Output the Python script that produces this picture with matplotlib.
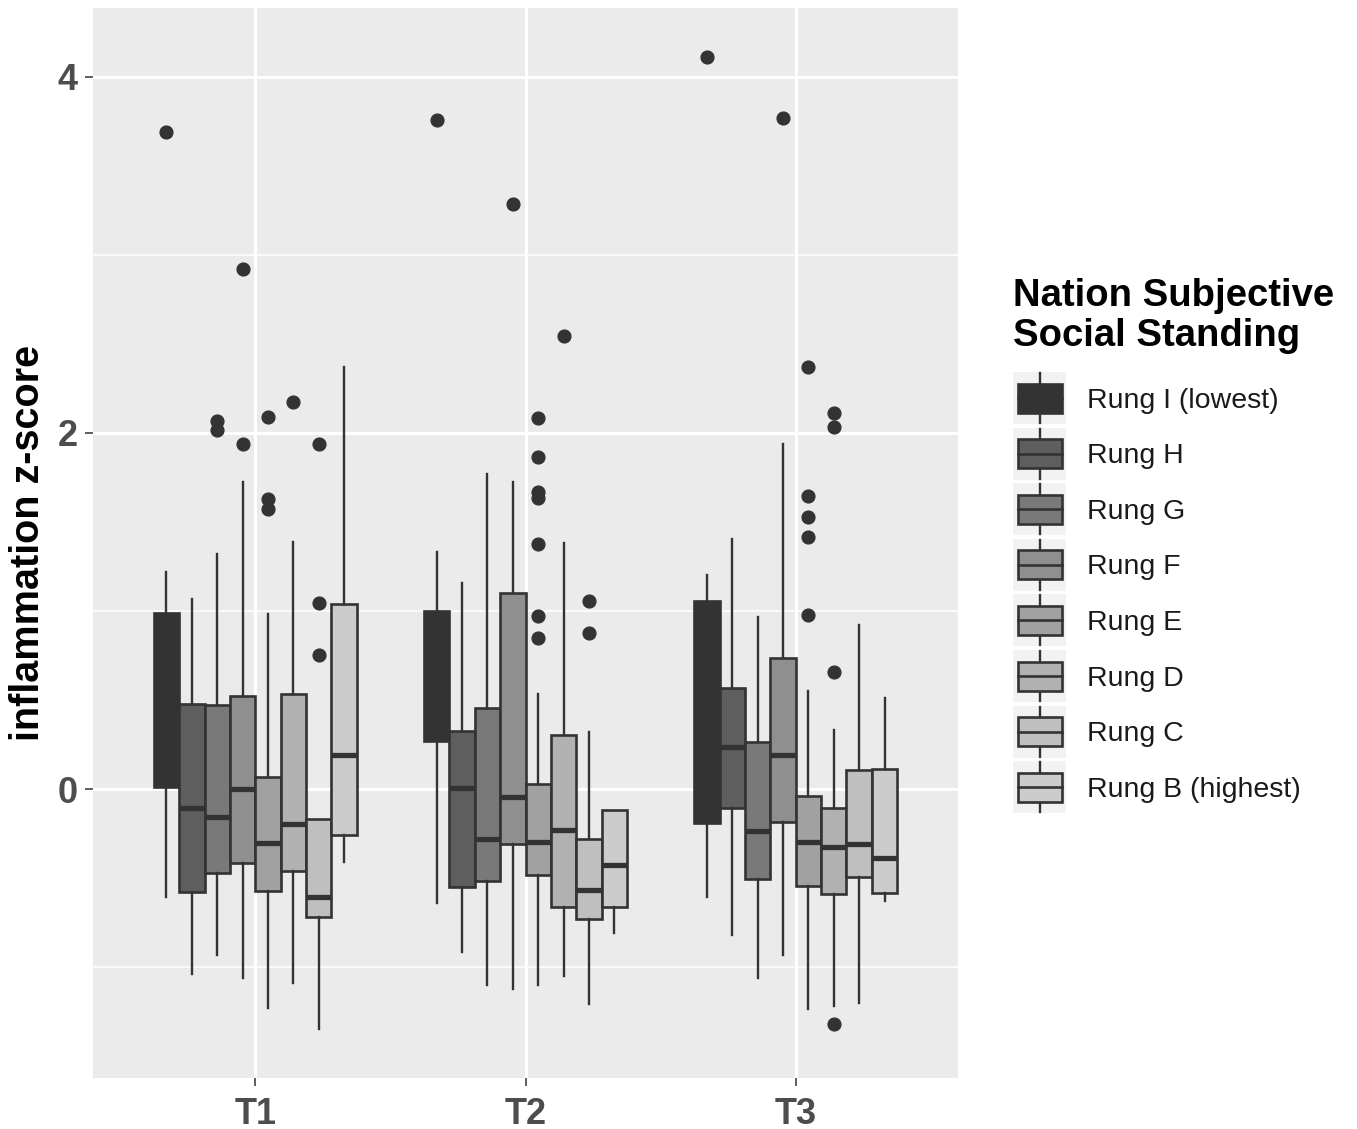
import numpy as np
import matplotlib
matplotlib.use("Agg")
import matplotlib.pyplot as plt
from matplotlib.patches import Rectangle

plt.rcParams['font.family'] = ['Liberation Sans', 'DejaVu Sans']

# ---------------- data ----------------
times = ["T1", "T2", "T3"]
rungs = ["Rung I (lowest)", "Rung H", "Rung G", "Rung F",
         "Rung E", "Rung D", "Rung C", "Rung B (highest)"]

# rows = rungs (I..B), columns = T1, T2, T3
whislo = [[-0.607, -0.641, -0.606],
          [-1.035, -0.913, -0.817],
          [-0.928, -1.101, -1.062],
          [-1.059, -1.124, -0.933],
          [-1.226, -1.101, -1.234],
          [-1.087, -1.047, -1.214],
          [-1.344, -1.203, -1.200],
          [-0.407, -0.806, -0.628]]
q1 = [[0.015, 0.271, -0.189],
      [-0.579, -0.548, -0.105],
      [-0.469, -0.514, -0.506],
      [-0.412, -0.310, -0.183],
      [-0.572, -0.481, -0.543],
      [-0.457, -0.659, -0.588],
      [-0.716, -0.729, -0.490],
      [-0.257, -0.659, -0.584]]
med = [[0.45, 0.60, 0.45],
       [-0.107, 0.008, 0.238],
       [-0.154, -0.277, -0.234],
       [0.000, -0.045, 0.194],
       [-0.304, -0.297, -0.296],
       [-0.195, -0.229, -0.327],
       [-0.604, -0.564, -0.305],
       [0.193, -0.428, -0.387]]
q3 = [[0.990, 0.998, 1.058],
      [0.480, 0.328, 0.568],
      [0.474, 0.455, 0.263],
      [0.521, 1.103, 0.737],
      [0.067, 0.027, -0.038],
      [0.536, 0.304, -0.105],
      [-0.169, -0.281, 0.107],
      [1.040, -0.118, 0.114]]
whishi = [[1.218, 1.331, 1.205],
          [1.068, 1.157, 1.405],
          [1.323, 1.770, 0.969],
          [1.723, 1.723, 1.940],
          [0.986, 0.537, 0.552],
          [1.387, 1.380, 0.330],
          [-0.169, 0.324, 0.920],
          [2.368, -0.118, 0.512]]
fliers = [[[3.69], [3.758], [4.112]],
          [[], [], []],
          [[2.065, 2.019], [], []],
          [[2.92, 1.935], [3.283], [3.77]],
          [[2.090, 1.630, 1.574], [2.082, 1.864, 1.668, 1.632, 1.376, 0.973, 0.851],
           [2.371, 1.648, 1.530, 1.416, 0.978]],
          [[2.176], [2.542], [2.112, 2.034, 0.657, -1.315]],
          [[1.935, 1.046, 0.752], [1.054, 0.876], []],
          [[], [], []]]

yticks = [0, 2, 4]
yminor = [-1, 1, 3]

# ggplot scale_fill_grey(start=0.2, end=0.8)
n = len(rungs)
gam = 2.2
vals = np.linspace(0.2 ** gam, 0.8 ** gam, n) ** (1 / gam)
fills = [(v, v, v) for v in vals]
edge = "#333333"

W, H = 1357, 1129
fig = plt.figure(figsize=(W / 100, H / 100), dpi=100)
fig.patch.set_facecolor("white")
left, right, top, bottom = 93, 958, 8, 1077.5
ax = fig.add_axes([left / W, 1 - bottom / H, (right - left) / W, (bottom - top) / H])
ax.set_facecolor("#EBEBEB")

dodge = 0.75
bw = dodge / n
for i in range(n):
    stats = []
    pos = []
    for j in range(len(times)):
        stats.append(dict(med=med[i][j], q1=q1[i][j], q3=q3[i][j],
                          whislo=whislo[i][j], whishi=whishi[i][j],
                          fliers=fliers[i][j]))
        pos.append(j + 1 + (i - (n - 1) / 2) * bw)
    ax.bxp(stats, positions=pos, widths=bw, patch_artist=True,
           showcaps=False,
           boxprops=dict(facecolor=fills[i], edgecolor=edge, linewidth=1.9),
           whiskerprops=dict(color=edge, linewidth=1.7),
           medianprops=dict(color=edge, linewidth=3.8, solid_capstyle="butt"),
           flierprops=dict(marker="o", markerfacecolor=edge, markeredgecolor=edge,
                           markersize=9.2, linestyle="none"),
           manage_ticks=False, zorder=3)

ax.set_xlim(0.4, 3.6)
ax.set_ylim(-1.618, 4.385)
ax.set_xticks([1, 2, 3])
ax.set_xticklabels(times)
ax.set_yticks(yticks)
ax.set_yticklabels([str(t) for t in yticks])
ax.set_yticks(yminor, minor=True)
ax.grid(which="major", color="white", linewidth=2.2, zorder=0)
ax.grid(which="minor", axis="y", color="white", linewidth=1.1, zorder=0)
ax.set_axisbelow(True)
for s in ax.spines.values():
    s.set_visible(False)
ax.tick_params(which="major", length=5.8, width=1.1, color="#333333",
               labelsize=26, labelcolor="#4D4D4D", pad=5)
ax.tick_params(axis="x", pad=8)
ax.tick_params(which="minor", length=0)
for lab in ax.get_xticklabels() + ax.get_yticklabels():
    lab.set_fontweight("bold")

fig.text(28 / W, 1 - 543 / H, "inflammation z-score", rotation=90,
         ha="center", va="center", fontsize=28.5, fontweight="bold", color="black")

# ---------------- legend ----------------
lg = fig.add_axes([0, 0, 1, 1], facecolor="none")
lg.set_xlim(0, W)
lg.set_ylim(H, 0)
lg.axis("off")
lg.text(1013, 306, "Nation Subjective", fontsize=27.5, fontweight="bold",
        ha="left", va="baseline", color="black")
lg.text(1013, 346.5, "Social Standing", fontsize=27.5, fontweight="bold",
        ha="left", va="baseline", color="black")
key0, kstep = 398.0, 55.6
for i, name in enumerate(rungs):
    cy = key0 + i * kstep
    lg.add_patch(Rectangle((1013, cy - 26), 53, 52, facecolor="#F2F2F2",
                           edgecolor="none"))
    lg.plot([1039.5, 1039.5], [cy - 25, cy + 25], color=edge, lw=1.7)
    lg.add_patch(Rectangle((1018, cy - 14.5), 44, 29, facecolor=fills[i],
                           edgecolor=edge, lw=1.9, zorder=3))
    lg.plot([1018, 1062], [cy, cy], color=edge, lw=1.9, zorder=4)
    lg.text(1087, cy + 2.5, name, fontsize=20.5, ha="left", va="center",
            color="#1A1A1A")

fig.savefig("out.png", dpi=100)
